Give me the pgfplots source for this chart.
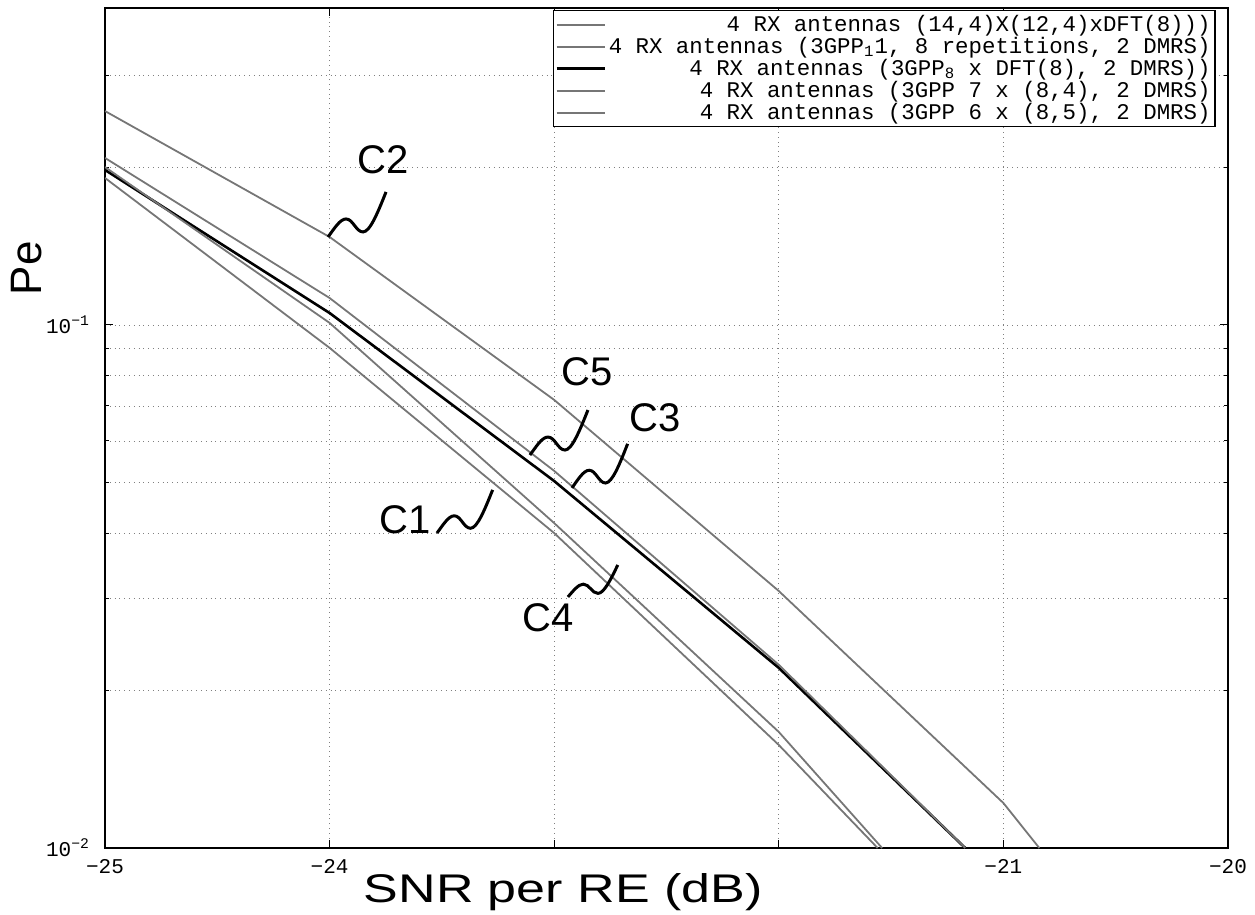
\documentclass[border=0pt]{standalone}
\usepackage{fontspec}
\setmainfont{Liberation Sans}
\setmonofont{Liberation Mono}
\usepackage{pgfplots}
\pgfplotsset{compat=1.18}
\definecolor{cgray}{RGB}{118,118,118}

% wavy leader line from a curve to its label
\newcommand{\squiggle}[3]{%
  \draw[line width=1.5pt, shift={(#1)}, x=#2, y=#3]
    (0,0) .. controls (6,-8) and (12,-18) .. (18,-18)
          .. controls (25,-18) and (28,-5) .. (35,-5)
          .. controls (42,-5) and (50,-25) .. (58,-45);}

\begin{document}
\begin{tikzpicture}
\begin{axis}[
    name=main, at={(0,0)}, anchor=south west,
    scale only axis, width=561.5pt, height=420pt,
    ymode=log,
    xmin=-25, xmax=-20,
    ymin=0.01, ymax=0.4036,
    xtick={-25,-24,-23,-22,-21,-20},
    xticklabels={−25,−24,,,−21,−20},
    ytick={0.01,0.1},
    yticklabels={10\textsuperscript{−2},10\textsuperscript{−1}},
    minor ytick={0.02,0.03,0.04,0.05,0.06,0.07,0.08,0.09,0.2,0.3},
    tick label style={font=\ttfamily\fontsize{10.5}{12}\selectfont},
    xticklabel style={yshift=-2pt},
    yticklabel style={xshift=-4pt},
    major tick length=4pt, minor tick length=2pt,
    tick style={black, line width=0.5pt},
    axis line style={line width=0.7pt},
    grid=both,
    major grid style={dotted, gray},
    minor grid style={dotted, gray},
    xlabel={SNR per RE (dB)},
    ylabel={Pe},
    xlabel style={font=\fontsize{20}{24}\selectfont, xscale=1.3,
        at={(axis description cs:0.408,-0.053)}, anchor=center},
    ylabel style={font=\fontsize{22}{26}\selectfont,
        at={(axis description cs:-0.0695,0.69)}, anchor=center},
    legend cell align=right,
    legend style={at={(0.989,0.9976)}, anchor=north east,
        font=\ttfamily\fontsize{11.2}{13}\selectfont,
        draw=black, line width=0.6pt, inner sep=1pt,
        nodes={inner sep=1.2pt}, row sep=-1pt},
    legend image code/.code={\draw[#1] (0cm,0cm) -- (0.85cm,0cm);},
]

% C1
\addplot[cgray, line width=0.9pt] coordinates {
    (-25,0.1910) (-24,0.0904) (-23,0.0400) (-22,0.01574) (-21.56,0.0100)};
% C2
\addplot[cgray, line width=0.9pt] coordinates {
    (-25,0.2564) (-24,0.1473) (-23,0.0719) (-22,0.0310) (-21,0.01219) (-20.84,0.0100)};
% C3
\addplot[black, line width=1.3pt] coordinates {
    (-25,0.1979) (-24,0.1054) (-23,0.0503) (-22,0.0221) (-21.17,0.0100)};
% C4
\addplot[cgray, line width=0.9pt] coordinates {
    (-25,0.2004) (-24,0.1009) (-23,0.0418) (-22,0.01667) (-21.54,0.0100)};
% C5
\addplot[cgray, line width=0.9pt] coordinates {
    (-25,0.2086) (-24,0.1126) (-23,0.0526) (-22,0.0224) (-21.17,0.0100)};

\legend{4 RX antennas (14{,}4)X(12{,}4)xDFT(8))),
        4 RX antennas (3GPP\textsubscript{1}1{,} 8 repetitions{,} 2 DMRS),
        4 RX antennas (3GPP\textsubscript{8} x DFT(8){,} 2 DMRS)),
        4 RX antennas (3GPP 7 x (8{,}4){,} 2 DMRS),
        4 RX antennas (3GPP 6 x (8{,}5){,} 2 DMRS)}

\coordinate (s2) at (axis cs:-24.007,0.1473);
\coordinate (t2) at (axis cs:-23.762,0.2067);
\coordinate (s5) at (axis cs:-23.108,0.0564);
\coordinate (t5) at (axis cs:-22.854,0.0813);
\coordinate (s3) at (axis cs:-22.921,0.0488);
\coordinate (t3) at (axis cs:-22.551,0.0664);
\coordinate (s4) at (axis cs:-22.939,0.0302);
\coordinate (t4) at (axis cs:-23.028,0.0275);
\coordinate (s1) at (axis cs:-23.522,0.0400);
\coordinate (t1) at (axis cs:-23.664,0.0424);
\end{axis}

\squiggle{s2}{0.5pt}{-0.5pt}
\squiggle{s5}{0.5pt}{-0.5pt}
\squiggle{s3}{0.48pt}{-0.49pt}
\squiggle{s4}{0.43pt}{-0.355pt}
\squiggle{s1}{0.48pt}{-0.48pt}
\foreach \n in {1,...,5}{
  \node[font=\fontsize{20}{24}\selectfont] at (t\n) {C\n};
}

\pgfresetboundingbox
\path[use as bounding box] (-52.5pt,-33.5pt) rectangle (575pt,424pt);
\end{tikzpicture}
\end{document}
